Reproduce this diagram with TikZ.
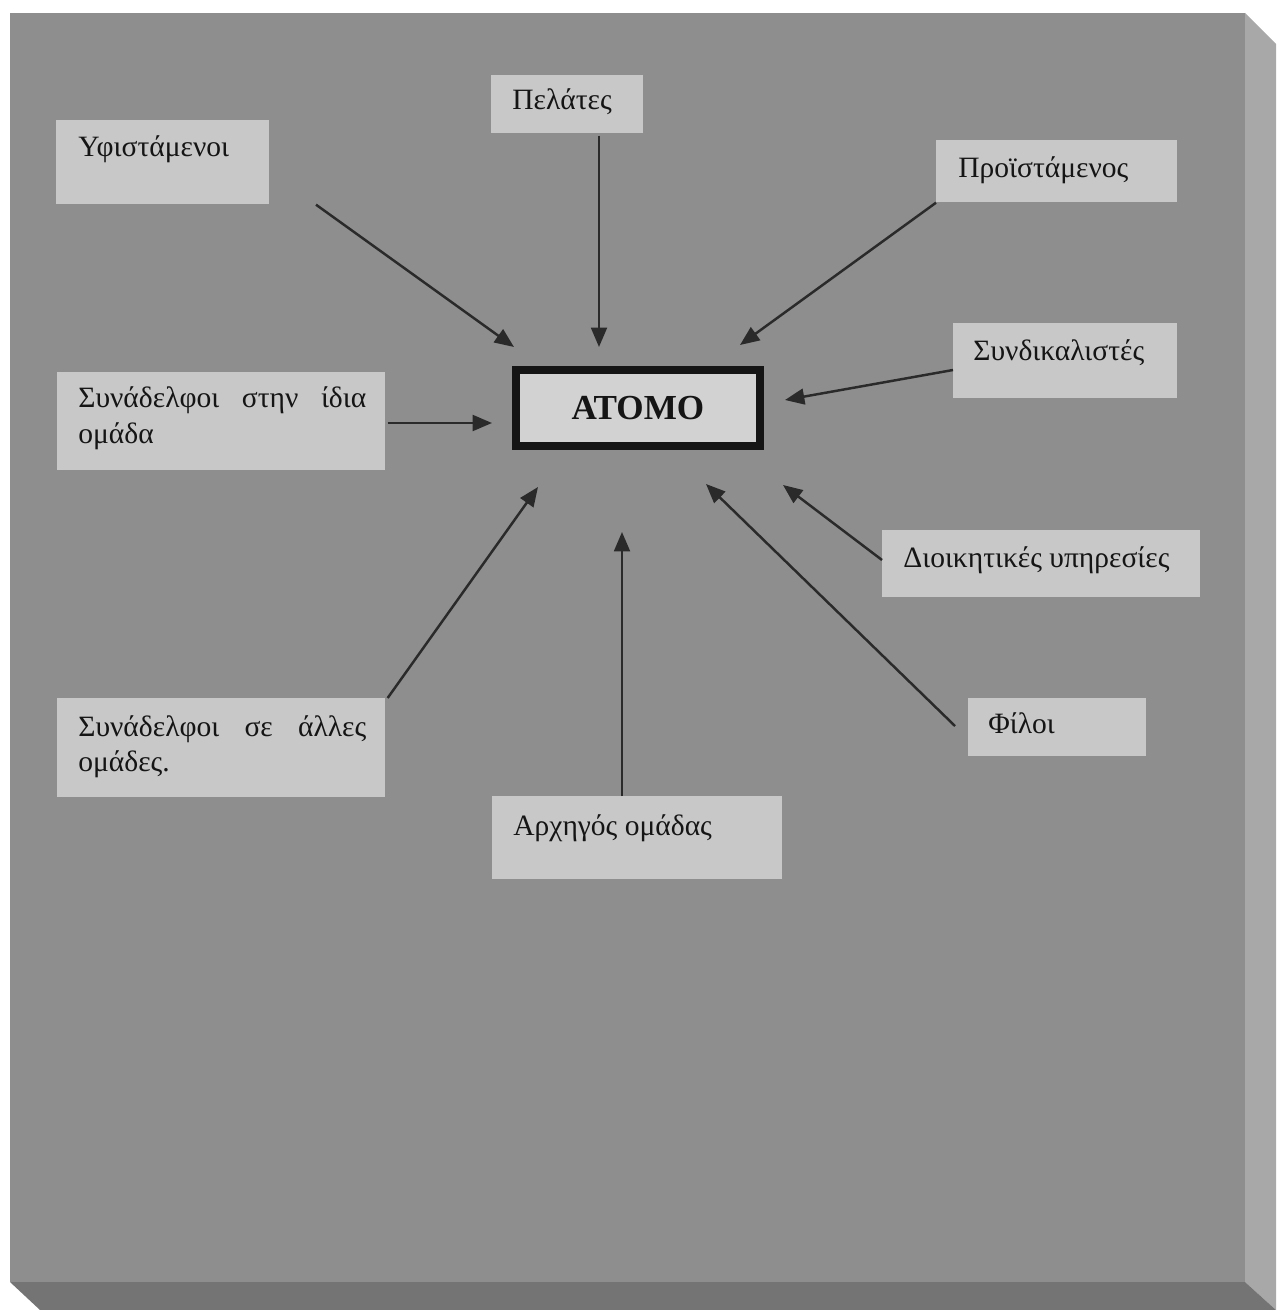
\documentclass[tikz,border=0pt]{standalone}
\usepackage{fontspec}
\setmainfont{Liberation Serif}
\usetikzlibrary{arrows.meta,calc}
\definecolor{panel}{HTML}{8E8E8E}
\definecolor{panelR}{HTML}{A8A8A8}
\definecolor{panelB}{HTML}{747474}
\definecolor{boxc}{HTML}{C8C8C8}
\definecolor{atomc}{HTML}{D2D2D2}
\definecolor{ink}{HTML}{151515}
\definecolor{arrc}{HTML}{2A2A2A}
\begin{document}
\begin{tikzpicture}[x=0.02cm,y=-0.02cm,
  lbox/.style={fill=boxc,draw=none,anchor=north west,inner sep=0pt},
  txt/.style={inner sep=0pt,anchor=base west,text=ink,font=\fontsize{16.8}{20}\selectfont},
  arr/.style={draw=arrc,line width=1.4pt,-{Triangle[length=11pt,width=9pt]}}]
\useasboundingbox (0,0) rectangle (1276,1310);
\fill[white] (0,0) rectangle (1276,1310);
% 3D panel
\fill[panel] (10,13) rectangle (1245,1282);
\fill[panelR] (1245,13) -- (1276,44) -- (1276,1310) -- (1245,1282) -- cycle;
\fill[panelB] (10,1282) -- (1245,1282) -- (1276,1310) -- (40,1310) -- cycle;

% boxes
\node[lbox,minimum width=3.04cm,minimum height=1.16cm] (pel) at (491,75) {};
\node[lbox,minimum width=4.26cm,minimum height=1.68cm] (ypf) at (56,120) {};
\node[lbox,minimum width=4.82cm,minimum height=1.24cm] (pro) at (936,140) {};
\node[lbox,minimum width=4.48cm,minimum height=1.5cm] (syn) at (953,323) {};
\node[lbox,minimum width=6.56cm,minimum height=1.96cm] (idia) at (57,372) {};
\node[lbox,minimum width=6.36cm,minimum height=1.34cm] (dio) at (882,530) {};
\node[lbox,minimum width=3.56cm,minimum height=1.16cm] (fil) at (968,698) {};
\node[lbox,minimum width=6.56cm,minimum height=1.98cm] (alles) at (57,698) {};
\node[lbox,minimum width=5.8cm,minimum height=1.66cm] (arx) at (492,796) {};
\node[fill=atomc,draw=ink,line width=4.5pt,minimum width=4.88cm,minimum height=1.52cm,
      inner sep=0pt,font=\fontsize{20}{22}\selectfont\bfseries,text=ink] (atom) at (638,408) {ΑΤΟΜΟ};

% texts
\node[txt] (pelT) at ($(pel.north west)+(21,35)$) {Πελάτες};
\node[txt] (ypfT) at ($(ypf.north west)+(22,37)$) {Υφιστάμενοι};
\node[txt] (proT) at ($(pro.north west)+(22,38)$) {Προϊστάμενος};
\node[txt] (synT) at ($(syn.north west)+(20,38)$) {Συνδικαλιστές};
\node[txt,text width=5.76cm,align=justify] (idiaT) at ($(idia.north west)+(21,36)$) {\fontsize{16.8}{35}\selectfont Συνάδελφοι στην ίδια ομάδα};
\node[txt] (dioT) at ($(dio.north west)+(21,37)$) {Διοικητικές υπηρεσίες};
\node[txt] (filT) at ($(fil.north west)+(20,35)$) {Φίλοι};
\node[txt,text width=5.76cm,align=justify] (allesT) at ($(alles.north west)+(21,38)$) {\fontsize{16.8}{35}\selectfont Συνάδελφοι σε άλλες ομάδες.};
\node[txt] (arxT) at ($(arx.north west)+(21,39)$) {Αρχηγός ομάδας};

% arrow tips
\coordinate (t1) at (514,347);
\coordinate (t2) at (599,347);
\coordinate (t3) at (740,345);
\coordinate (t4) at (785,400);
\coordinate (t5) at (492,423);
\coordinate (t6) at (538,487);
\coordinate (t7) at (622,532);
\coordinate (t8) at (783,485);
\coordinate (t9) at (706,484);

\draw[arr] ($(ypf.south west)+(260,0)$) -- (t1);
\draw[arr] ($(pel.south west)+(108,2)$) -- (t2);
\draw[arr] (pro.south west) -- (t3);
\draw[arr] ($(syn.north west)+(0,47)$) -- (t4);
\draw[arr] ($(idia.north east)+(2,51)$) -- (t5);
\draw[arr] ($(alles.north east)+(2,0)$) -- (t6);
\draw[arr] ($(arx.north west)+(130,0)$) -- (t7);
\draw[arr] ($(dio.north west)+(0,30)$) -- (t8);
\draw[arr] ($(fil.north west)+(-13,28)$) -- (t9);
\end{tikzpicture}
\end{document}
